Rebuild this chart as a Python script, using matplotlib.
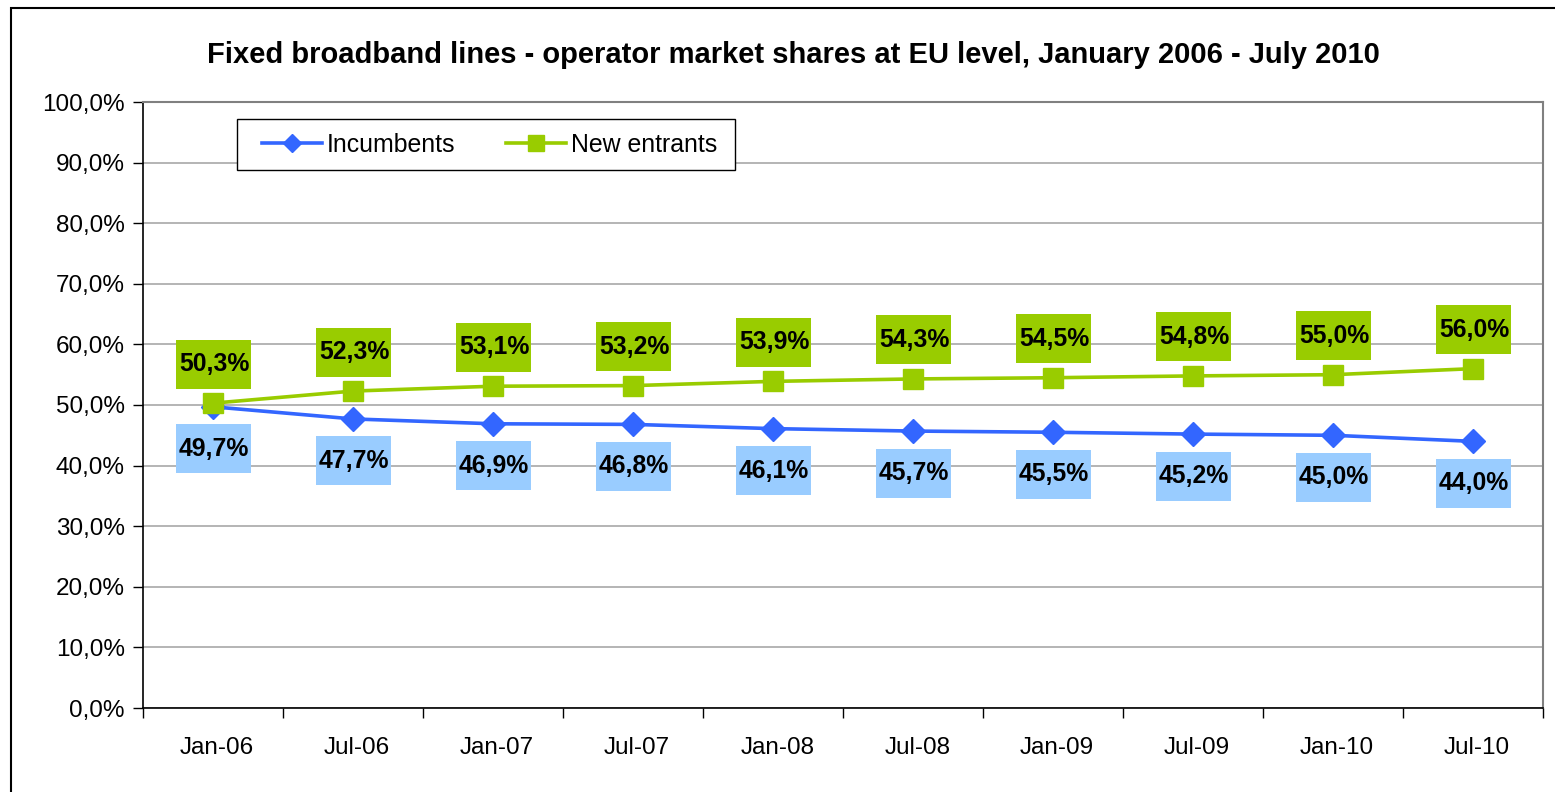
import matplotlib
matplotlib.use('Agg')
import matplotlib.pyplot as plt
import matplotlib.patches as mpatches
import matplotlib.transforms as mtransforms
import numpy as np

plt.rcParams['font.family'] = ['Liberation Sans', 'DejaVu Sans']

# data
periods = ['Jan-06', 'Jul-06', 'Jan-07', 'Jul-07', 'Jan-08',
           'Jul-08', 'Jan-09', 'Jul-09', 'Jan-10', 'Jul-10']
incumbents = [49.7, 47.7, 46.9, 46.8, 46.1, 45.7, 45.5, 45.2, 45.0, 44.0]
new_entrants = [50.3, 52.3, 53.1, 53.2, 53.9, 54.3, 54.5, 54.8, 55.0, 56.0]
yticks = np.arange(0, 101, 10)


def pct(v):
    # decimal comma like the original
    return ('%.1f%%' % v).replace('.', ',')


W, H = 1555, 792
fig = plt.figure(figsize=(W / 100, H / 100), dpi=100, facecolor='white')

# outer chart border (left/top only visible)
fig.patches.append(mpatches.Rectangle((11 / W, -0.1), 1.2, 1 - 8 / H + 0.1,
                                      transform=fig.transFigure, fill=False,
                                      edgecolor='black', linewidth=1.5))

ax = fig.add_axes([143 / W, 1 - 708 / H, 1400 / W, 606 / H])
x = np.arange(len(periods))

blue = '#3366FF'
green = '#99CC00'

ax.plot(x, incumbents, color=blue, lw=2.6, marker='D', ms=12.5,
        label='Incumbents', zorder=4)
ax.plot(x, new_entrants, color=green, lw=2.6, marker='s', ms=14.5,
        label='New entrants', zorder=4)

ax.set_xlim(-0.5, len(periods) - 0.5)
ax.set_ylim(0, 100)
ax.set_yticks(yticks)
ax.set_yticklabels([pct(v) for v in yticks])
ax.grid(axis='y', color='#A8A8A8', lw=1.2)
ax.set_axisbelow(True)

ax.set_xticks(x + 0.03)
ax.set_xticklabels(periods)
ax.set_xticks(np.arange(-0.5, len(periods), 1), minor=True)
ax.tick_params(axis='x', which='major', length=0, pad=21, labelsize=17.5)
ax.tick_params(axis='x', which='minor', length=7, width=1, direction='out')
ax.tick_params(axis='y', length=7, width=1, direction='out', pad=6,
               labelsize=17.5)

for side in ['left', 'bottom']:
    ax.spines[side].set_color('black')
    ax.spines[side].set_linewidth(1.2)
for side in ['top', 'right']:
    ax.spines[side].set_color('#808080')
    ax.spines[side].set_linewidth(1.5)

# data label boxes
bw, bh = 0.75, 0.49
for xi, v in zip(x, new_entrants):
    tr = fig.dpi_scale_trans + mtransforms.ScaledTranslation(xi, v, ax.transData)
    ax.add_patch(mpatches.Rectangle((-bw / 2, 0.39 - bh / 2), bw, bh,
                                    transform=tr, facecolor=green,
                                    edgecolor='none', zorder=5))
    ax.text(0.01, 0.39, pct(v), transform=tr, ha='center', va='center',
            fontsize=17.8, fontweight='bold', zorder=6)
for xi, v in zip(x, incumbents):
    tr = fig.dpi_scale_trans + mtransforms.ScaledTranslation(xi, v, ax.transData)
    ax.add_patch(mpatches.Rectangle((-bw / 2, -0.42 - bh / 2), bw, bh,
                                    transform=tr, facecolor='#99CCFF',
                                    edgecolor='none', zorder=5))
    ax.text(0.01, -0.42, pct(v), transform=tr, ha='center', va='center',
            fontsize=17.8, fontweight='bold', zorder=6)

# legend frame drawn by hand, legend itself without frame
ax.add_patch(mpatches.Rectangle((94 / 1400, 1 - 68 / 606), 498 / 1400, 51 / 606,
                                transform=ax.transAxes, facecolor='white',
                                edgecolor='black', lw=1.0, zorder=7))
leg = ax.legend(loc='center left', bbox_to_anchor=(119 / 1400, 1 - 42.5 / 606),
                ncol=2, fontsize=17.9, frameon=False, markerscale=0.75,
                handlelength=2.4, handletextpad=0.2, columnspacing=2.05,
                borderpad=0, borderaxespad=0)
leg.set_zorder(8)

fig.text(793 / W, 1 - 55 / H,
         'Fixed broadband lines - operator market shares at EU level, January 2006 - July 2010',
         ha='center', va='center', fontsize=21, fontweight='bold')

fig.savefig('out.png', dpi=100, facecolor='white')
